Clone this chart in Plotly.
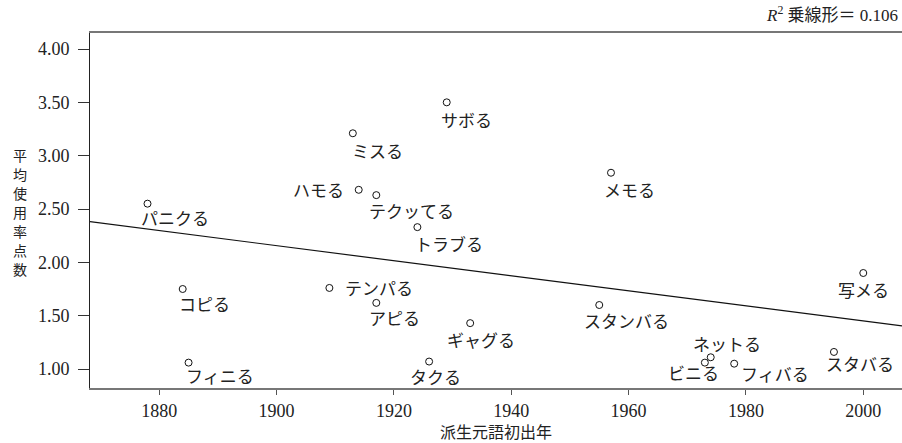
import numpy as np
import plotly.graph_objects as go

# ---- data ----
words = ["パニクる", "コピる", "フィニる", "ハモる", "ミスる", "サボる", "テクッてる",
         "トラブる", "メモる", "スタンバる", "テンパる", "アピる", "ギャグる", "タクる",
         "写メる", "スタバる", "ネットる", "ビニる", "フィバる"]
first_year = [1878, 1884, 1885, 1914, 1913, 1929, 1917,
              1924, 1957, 1955, 1909, 1917, 1933, 1926,
              2000, 1995, 1974, 1973, 1978]
mean_score = [2.55, 1.75, 1.06, 2.68, 3.21, 3.50, 2.63,
              2.33, 2.84, 1.60, 1.76, 1.62, 1.43, 1.07,
              1.90, 1.16, 1.11, 1.06, 1.05]
x_ticks = [1880, 1900, 1920, 1940, 1960, 1980, 2000]
y_ticks = [1.00, 1.50, 2.00, 2.50, 3.00, 3.50, 4.00]
y_tick_text = ["1.00", "1.50", "2.00", "2.50", "3.00", "3.50", "4.00"]
r2_text = "0.106"
x_title = "派生元語初出年"
y_title = "平均使用率点数"

# ---- label placement (style: anchor, x shift px, y shift px) ----
label_pos = [("left", -9, -14), ("left", -6, -14), ("left", -5, -13), ("right", -13, 0),
             ("left", -3, -17), ("left", -8, -17), ("left", -9, -15), ("left", -4, -16),
             ("left", -9, -17), ("left", -17, -15), ("left", 14, 0), ("left", -9, -15),
             ("left", -25, -16), ("left", -21, -15), ("left", -27, -16), ("left", -10, -12),
             ("left", -20, 14), ("left", -39, -10), ("left", 5, -10)]

X_RANGE = [1868.2, 2006.6]
Y_RANGE = [0.822, 4.15]

serif = "'Liberation Serif', 'Times New Roman', 'Noto Sans CJK JP', serif"
cjk = "'Noto Sans CJK JP', sans-serif"

# linear fit computed from the data
slope, intercept = np.polyfit(first_year, mean_score, 1)
fit_x = np.array(X_RANGE)
fit_y = intercept + slope * fit_x

fig = go.Figure()
fig.add_trace(go.Scatter(x=fit_x, y=fit_y, mode="lines",
                         line=dict(color="#111111", width=1.2), showlegend=False,
                         hoverinfo="skip"))
fig.add_trace(go.Scatter(x=first_year, y=mean_score, mode="markers",
                         marker=dict(symbol="circle-open", size=7,
                                     color="#111111", line=dict(width=1)),
                         showlegend=False))

for w, xv, yv, (anc, dx, dy) in zip(words, first_year, mean_score, label_pos):
    fig.add_annotation(x=xv, y=yv, text=w, showarrow=False, xanchor=anc,
                       yanchor="middle", xshift=dx, yshift=dy,
                       font=dict(family=cjk, size=17, color="#222222"))

# vertical (stacked) y-axis title, one character per row
pitch = 19
n = len(y_title)
for i, ch in enumerate(y_title):
    fig.add_annotation(xref="paper", yref="paper", x=0, y=0.496, xshift=-70,
                       yshift=((n - 1) / 2 - i) * pitch, borderpad=0,
                       xanchor="center", yanchor="middle", text=ch,
                       showarrow=False,
                       font=dict(family=cjk, size=14, color="#222222"))

fig.add_annotation(xref="paper", yref="paper", x=1, y=1.0535, xshift=-2,
                   xanchor="right", yanchor="middle", showarrow=False,
                   text="<i>R</i><sup>2</sup> 乗線形＝ " + r2_text,
                   font=dict(family=serif, size=17, color="#222222"))

fig.update_layout(
    width=902, height=443,
    margin=dict(l=90, r=0, t=33, b=55),
    plot_bgcolor="white", paper_bgcolor="white",
    xaxis=dict(range=X_RANGE, tickvals=x_ticks, ticks="outside", ticklen=5,
               tickcolor="#555555", showline=True, linecolor="#777777",
               linewidth=2, mirror=True, showgrid=False, zeroline=False,
               tickfont=dict(family=serif, size=18, color="#222222"),
               title=dict(text=x_title, standoff=7,
                          font=dict(family=cjk, size=16, color="#222222"))),
    yaxis=dict(range=Y_RANGE, tickvals=y_ticks, ticktext=y_tick_text,
               ticks="outside", ticklen=11, tickcolor="#333333",
               showline=True, linecolor="#222222", linewidth=1,
               showgrid=False, zeroline=False, ticklabelstandoff=5,
               tickfont=dict(family=serif, size=18, color="#222222")),
)

fig.write_html("out.html", config={"displayModeBar": False},
               post_script="document.body.style.margin='0';"
                           "document.body.style.padding='0';")
